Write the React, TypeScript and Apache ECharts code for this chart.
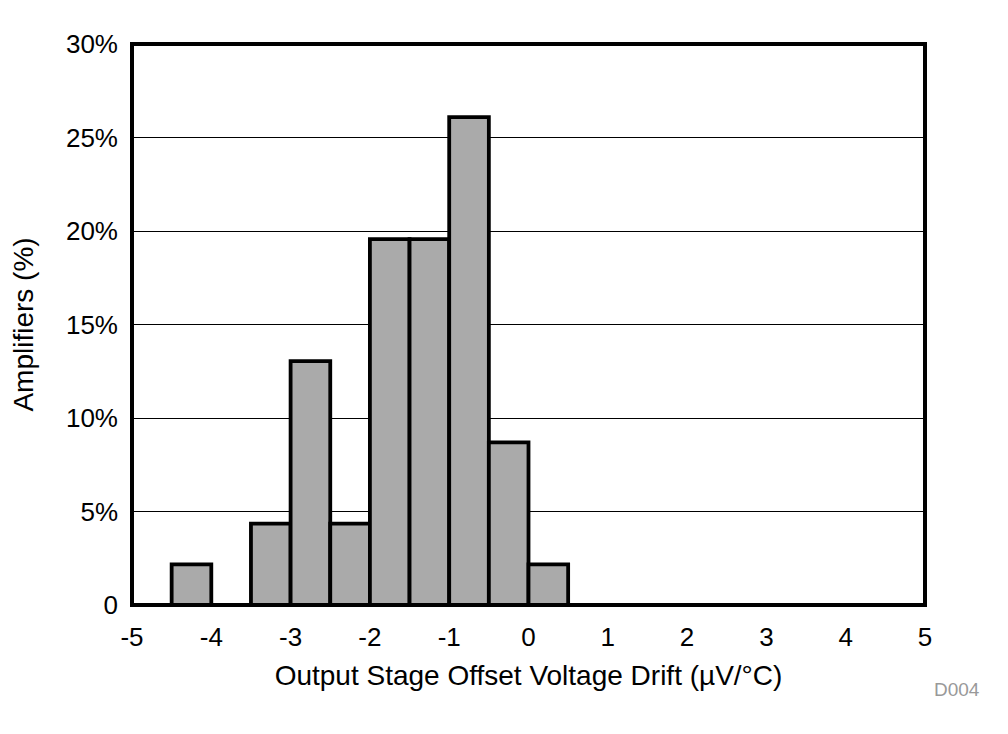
import React, { useEffect, useRef } from "react";
import * as echarts from "echarts";

const binStarts = [-4.5, -3.5, -3.0, -2.5, -2.0, -1.5, -1.0, -0.5, 0.0];
const binWidth = 0.5;
const percents = [2.17, 4.35, 13.04, 4.35, 19.57, 19.57, 26.09, 8.7, 2.17];
const xTicks = [-5, -4, -3, -2, -1, 0, 1, 2, 3, 4, 5];
const yTicks = [0, 5, 10, 15, 20, 25, 30];

export default function App() {
  const ref = useRef<HTMLDivElement>(null);
  useEffect(() => {
    if (!ref.current) return;
    const chart = echarts.init(ref.current, undefined, { renderer: "svg" });
    const font = "'Liberation Sans', Arial, sans-serif";
    chart.setOption({
      animation: false,
      backgroundColor: "#ffffff",
      grid: {
        left: 132,
        top: 44,
        right: 83,
        bottom: 129,
        show: true,
        borderColor: "#000000",
        borderWidth: 4,
        backgroundColor: "transparent",
      },
      xAxis: {
        type: "value",
        min: xTicks[0],
        max: xTicks[xTicks.length - 1],
        interval: 1,
        axisLine: { show: false },
        axisTick: { show: false },
        splitLine: { show: false },
        axisLabel: {
          color: "#000",
          fontSize: 26,
          fontFamily: font,
          margin: 19,
          formatter: (v: number) => String(v),
        },
        name: "Output Stage Offset Voltage Drift (\u00b5V/\u00b0C)",
        nameLocation: "middle",
        nameGap: 56,
        nameTextStyle: { color: "#000", fontSize: 28, fontFamily: font },
      },
      yAxis: {
        type: "value",
        min: yTicks[0],
        max: yTicks[yTicks.length - 1],
        interval: 5,
        axisLine: { show: false },
        axisTick: { show: false },
        splitLine: { show: true, lineStyle: { color: "#000", width: 1 } },
        axisLabel: {
          color: "#000",
          fontSize: 26,
          fontFamily: font,
          margin: 14,
          formatter: (v: number) => (v === 0 ? "0" : v + "%"),
        },
        name: "Amplifiers (%)",
        nameLocation: "middle",
        nameGap: 95,
        nameRotate: 90,
        nameTextStyle: { color: "#000", fontSize: 28, fontFamily: font },
      },
      series: [
        {
          type: "custom",
          data: binStarts.map((s, i) => [s, s + binWidth, percents[i]]),
          renderItem: (params: any, api: any) => {
            const x0 = api.value(0);
            const x1 = api.value(1);
            const v = api.value(2);
            const p0 = api.coord([x0, v]);
            const p1 = api.coord([x1, 0]);
            return {
              type: "rect",
              shape: { x: p0[0], y: p0[1], width: p1[0] - p0[0], height: p1[1] - p0[1] },
              style: { fill: "#aaaaaa", stroke: "#000000", lineWidth: 3.8 },
            };
          },
          encode: { x: [0, 1], y: 2 },
          z: 3,
        },
      ],
      graphic: [
        {
          type: "text",
          left: 934,
          top: 680,
          style: { text: "D004", fill: "#999999", fontSize: 19, fontFamily: font },
        },
      ],
    });
    return () => chart.dispose();
  }, []);
  return (
    <div
      ref={ref}
      style={{ position: "absolute", left: 0, top: 0, width: 1008, height: 734 }}
    />
  );
}
